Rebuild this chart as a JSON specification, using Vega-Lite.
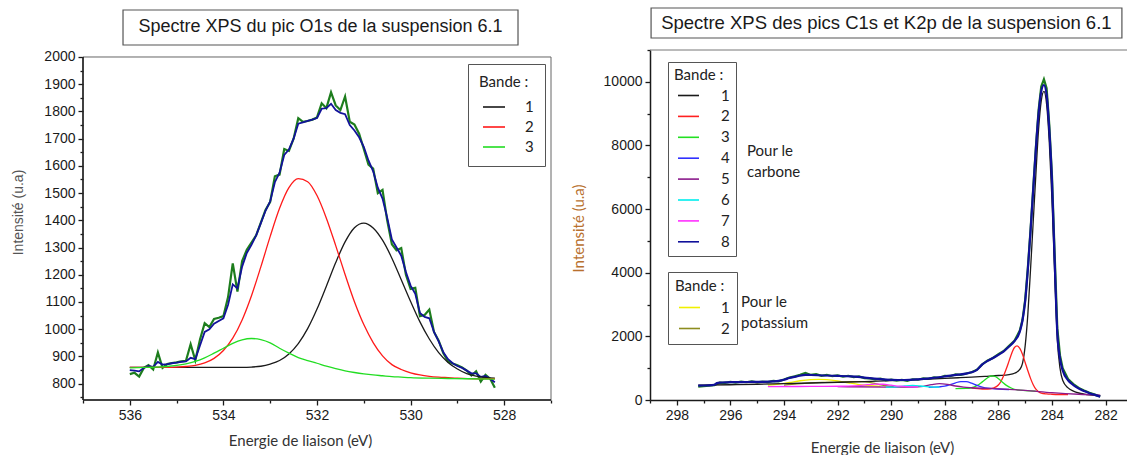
{
  "$schema": "https://vega.github.io/schema/vega-lite/v6.json",
  "background": "white",
  "autosize": {"type": "pad"},
  "padding": {"left": 11, "top": 7, "right": 0, "bottom": 0},
  "bounds": "flush",
  "spacing": 99,
  "resolve": {"scale": {"color": "independent", "stroke": "independent"}, "legend": {"color": "independent", "stroke": "independent"}},
  "config": {
    "view": {"stroke": null},
    "axis": {"grid": false, "labelFont": "Liberation Sans", "labelFontSize": 14, "labelColor": "#1a1a1a", "tickColor": "#1a1a1a", "domainColor": "#1a1a1a", "tickWidth": 1.3, "domainWidth": 1.5, "tickSize": 5, "labelPadding": 3, "titleFontWeight": "normal"},
    "legend": {"titleFont": "Lato", "labelFont": "Lato", "titleFontSize": 15, "labelFontSize": 15, "titleFontWeight": "normal", "titleColor": "#222", "labelColor": "#222", "strokeColor": "#555", "symbolType": "stroke", "symbolStrokeWidth": 1.6, "symbolOffset": 3}
  },
  "datasets": {
    "one": [{}],
    "o1s": [
      {"e":536.0,"i":835,"s":"data"},{"e":535.9,"i":840,"s":"data"},{"e":535.8,"i":826,"s":"data"},{"e":535.7,"i":858,"s":"data"},{"e":535.6,"i":868,"s":"data"},{"e":535.5,"i":852,"s":"data"},{"e":535.4,"i":915,"s":"data"},{"e":535.3,"i":858,"s":"data"},{"e":535.2,"i":872,"s":"data"},{"e":535.1,"i":876,"s":"data"},{"e":535.0,"i":878,"s":"data"},{"e":534.9,"i":882,"s":"data"},{"e":534.8,"i":884,"s":"data"},{"e":534.7,"i":945,"s":"data"},{"e":534.6,"i":886,"s":"data"},{"e":534.5,"i":962,"s":"data"},{"e":534.4,"i":1022,"s":"data"},{"e":534.3,"i":1008,"s":"data"},{"e":534.2,"i":1038,"s":"data"},{"e":534.1,"i":1042,"s":"data"},{"e":534.0,"i":1048,"s":"data"},{"e":533.9,"i":1118,"s":"data"},{"e":533.8,"i":1242,"s":"data"},{"e":533.7,"i":1138,"s":"data"},{"e":533.6,"i":1250,"s":"data"},{"e":533.5,"i":1292,"s":"data"},{"e":533.4,"i":1318,"s":"data"},{"e":533.3,"i":1345,"s":"data"},{"e":533.2,"i":1392,"s":"data"},{"e":533.1,"i":1438,"s":"data"},{"e":533.0,"i":1468,"s":"data"},{"e":532.9,"i":1562,"s":"data"},{"e":532.8,"i":1568,"s":"data"},{"e":532.7,"i":1662,"s":"data"},{"e":532.6,"i":1655,"s":"data"},{"e":532.5,"i":1700,"s":"data"},{"e":532.4,"i":1775,"s":"data"},{"e":532.3,"i":1762,"s":"data"},{"e":532.2,"i":1765,"s":"data"},{"e":532.1,"i":1770,"s":"data"},{"e":532.0,"i":1778,"s":"data"},{"e":531.9,"i":1830,"s":"data"},{"e":531.8,"i":1812,"s":"data"},{"e":531.7,"i":1870,"s":"data"},{"e":531.6,"i":1822,"s":"data"},{"e":531.5,"i":1805,"s":"data"},{"e":531.4,"i":1855,"s":"data"},{"e":531.3,"i":1762,"s":"data"},{"e":531.2,"i":1752,"s":"data"},{"e":531.1,"i":1718,"s":"data"},{"e":531.0,"i":1662,"s":"data"},{"e":530.9,"i":1605,"s":"data"},{"e":530.8,"i":1590,"s":"data"},{"e":530.7,"i":1500,"s":"data"},{"e":530.6,"i":1512,"s":"data"},{"e":530.5,"i":1400,"s":"data"},{"e":530.4,"i":1312,"s":"data"},{"e":530.3,"i":1290,"s":"data"},{"e":530.2,"i":1298,"s":"data"},{"e":530.1,"i":1200,"s":"data"},{"e":530.0,"i":1148,"s":"data"},{"e":529.9,"i":1152,"s":"data"},{"e":529.8,"i":1048,"s":"data"},{"e":529.7,"i":1052,"s":"data"},{"e":529.6,"i":1072,"s":"data"},{"e":529.5,"i":990,"s":"data"},{"e":529.4,"i":958,"s":"data"},{"e":529.3,"i":912,"s":"data"},{"e":529.2,"i":882,"s":"data"},{"e":529.1,"i":874,"s":"data"},{"e":529.0,"i":868,"s":"data"},{"e":528.9,"i":860,"s":"data"},{"e":528.8,"i":848,"s":"data"},{"e":528.7,"i":830,"s":"data"},{"e":528.6,"i":845,"s":"data"},{"e":528.5,"i":808,"s":"data"},{"e":528.4,"i":832,"s":"data"},{"e":528.3,"i":818,"s":"data"},{"e":528.2,"i":785,"s":"data"},
      {"e":536.0,"i":850,"s":"env"},{"e":535.9,"i":848,"s":"env"},{"e":535.8,"i":845,"s":"env"},{"e":535.7,"i":858,"s":"env"},{"e":535.6,"i":865,"s":"env"},{"e":535.5,"i":862,"s":"env"},{"e":535.4,"i":880,"s":"env"},{"e":535.3,"i":870,"s":"env"},{"e":535.2,"i":872,"s":"env"},{"e":535.1,"i":875,"s":"env"},{"e":535.0,"i":877,"s":"env"},{"e":534.9,"i":880,"s":"env"},{"e":534.8,"i":882,"s":"env"},{"e":534.7,"i":895,"s":"env"},{"e":534.6,"i":890,"s":"env"},{"e":534.5,"i":940,"s":"env"},{"e":534.4,"i":990,"s":"env"},{"e":534.3,"i":1000,"s":"env"},{"e":534.2,"i":1020,"s":"env"},{"e":534.1,"i":1030,"s":"env"},{"e":534.0,"i":1040,"s":"env"},{"e":533.9,"i":1090,"s":"env"},{"e":533.8,"i":1165,"s":"env"},{"e":533.7,"i":1150,"s":"env"},{"e":533.6,"i":1230,"s":"env"},{"e":533.5,"i":1280,"s":"env"},{"e":533.4,"i":1310,"s":"env"},{"e":533.3,"i":1345,"s":"env"},{"e":533.2,"i":1390,"s":"env"},{"e":533.1,"i":1435,"s":"env"},{"e":533.0,"i":1470,"s":"env"},{"e":532.9,"i":1540,"s":"env"},{"e":532.8,"i":1575,"s":"env"},{"e":532.7,"i":1640,"s":"env"},{"e":532.6,"i":1660,"s":"env"},{"e":532.5,"i":1700,"s":"env"},{"e":532.4,"i":1755,"s":"env"},{"e":532.3,"i":1760,"s":"env"},{"e":532.2,"i":1765,"s":"env"},{"e":532.1,"i":1770,"s":"env"},{"e":532.0,"i":1776,"s":"env"},{"e":531.9,"i":1810,"s":"env"},{"e":531.8,"i":1812,"s":"env"},{"e":531.7,"i":1828,"s":"env"},{"e":531.6,"i":1805,"s":"env"},{"e":531.5,"i":1795,"s":"env"},{"e":531.4,"i":1790,"s":"env"},{"e":531.3,"i":1750,"s":"env"},{"e":531.2,"i":1730,"s":"env"},{"e":531.1,"i":1705,"s":"env"},{"e":531.0,"i":1670,"s":"env"},{"e":530.9,"i":1620,"s":"env"},{"e":530.8,"i":1580,"s":"env"},{"e":530.7,"i":1520,"s":"env"},{"e":530.6,"i":1480,"s":"env"},{"e":530.5,"i":1410,"s":"env"},{"e":530.4,"i":1330,"s":"env"},{"e":530.3,"i":1300,"s":"env"},{"e":530.2,"i":1270,"s":"env"},{"e":530.1,"i":1210,"s":"env"},{"e":530.0,"i":1160,"s":"env"},{"e":529.9,"i":1130,"s":"env"},{"e":529.8,"i":1060,"s":"env"},{"e":529.7,"i":1045,"s":"env"},{"e":529.6,"i":1040,"s":"env"},{"e":529.5,"i":990,"s":"env"},{"e":529.4,"i":955,"s":"env"},{"e":529.3,"i":915,"s":"env"},{"e":529.2,"i":890,"s":"env"},{"e":529.1,"i":875,"s":"env"},{"e":529.0,"i":865,"s":"env"},{"e":528.9,"i":858,"s":"env"},{"e":528.8,"i":848,"s":"env"},{"e":528.7,"i":838,"s":"env"},{"e":528.6,"i":838,"s":"env"},{"e":528.5,"i":825,"s":"env"},{"e":528.4,"i":828,"s":"env"},{"e":528.3,"i":818,"s":"env"},{"e":528.2,"i":805,"s":"env"},
      {"e":536.0,"i":860,"s":"1"},{"e":535.0,"i":860,"s":"1"},{"e":534.0,"i":860,"s":"1"},{"e":533.6,"i":860,"s":"1"},{"e":533.4,"i":861,"s":"1"},{"e":533.2,"i":864,"s":"1"},{"e":533.0,"i":872,"s":"1"},{"e":532.8,"i":885,"s":"1"},{"e":532.6,"i":909,"s":"1"},{"e":532.4,"i":947,"s":"1"},{"e":532.2,"i":1002,"s":"1"},{"e":532.0,"i":1074,"s":"1"},{"e":531.8,"i":1158,"s":"1"},{"e":531.6,"i":1245,"s":"1"},{"e":531.4,"i":1321,"s":"1"},{"e":531.2,"i":1373,"s":"1"},{"e":531.0,"i":1390,"s":"1"},{"e":530.8,"i":1372,"s":"1"},{"e":530.6,"i":1327,"s":"1"},{"e":530.4,"i":1261,"s":"1"},{"e":530.2,"i":1182,"s":"1"},{"e":530.0,"i":1102,"s":"1"},{"e":529.8,"i":1027,"s":"1"},{"e":529.6,"i":964,"s":"1"},{"e":529.4,"i":914,"s":"1"},{"e":529.2,"i":878,"s":"1"},{"e":529.0,"i":854,"s":"1"},{"e":528.8,"i":837,"s":"1"},{"e":528.6,"i":828,"s":"1"},{"e":528.4,"i":823,"s":"1"},{"e":528.2,"i":820,"s":"1"},
      {"e":536.0,"i":860,"s":"2"},{"e":535.2,"i":860,"s":"2"},{"e":535.0,"i":861,"s":"2"},{"e":534.8,"i":863,"s":"2"},{"e":534.6,"i":867,"s":"2"},{"e":534.4,"i":876,"s":"2"},{"e":534.2,"i":893,"s":"2"},{"e":534.0,"i":922,"s":"2"},{"e":533.8,"i":967,"s":"2"},{"e":533.6,"i":1034,"s":"2"},{"e":533.4,"i":1123,"s":"2"},{"e":533.2,"i":1229,"s":"2"},{"e":533.0,"i":1341,"s":"2"},{"e":532.8,"i":1444,"s":"2"},{"e":532.6,"i":1520,"s":"2"},{"e":532.4,"i":1553,"s":"2"},{"e":532.2,"i":1542,"s":"2"},{"e":532.0,"i":1491,"s":"2"},{"e":531.8,"i":1408,"s":"2"},{"e":531.6,"i":1307,"s":"2"},{"e":531.4,"i":1201,"s":"2"},{"e":531.2,"i":1101,"s":"2"},{"e":531.0,"i":1017,"s":"2"},{"e":530.8,"i":951,"s":"2"},{"e":530.6,"i":902,"s":"2"},{"e":530.4,"i":870,"s":"2"},{"e":530.2,"i":852,"s":"2"},{"e":530.0,"i":840,"s":"2"},{"e":529.8,"i":832,"s":"2"},{"e":529.6,"i":827,"s":"2"},{"e":529.4,"i":824,"s":"2"},{"e":529.2,"i":822,"s":"2"},{"e":529.0,"i":820,"s":"2"},{"e":528.6,"i":818,"s":"2"},{"e":528.2,"i":818,"s":"2"},
      {"e":536.0,"i":858,"s":"3"},{"e":535.8,"i":859,"s":"3"},{"e":535.6,"i":860,"s":"3"},{"e":535.4,"i":861,"s":"3"},{"e":535.2,"i":863,"s":"3"},{"e":535.0,"i":867,"s":"3"},{"e":534.8,"i":873,"s":"3"},{"e":534.6,"i":882,"s":"3"},{"e":534.4,"i":895,"s":"3"},{"e":534.2,"i":912,"s":"3"},{"e":534.0,"i":930,"s":"3"},{"e":533.8,"i":948,"s":"3"},{"e":533.6,"i":961,"s":"3"},{"e":533.4,"i":966,"s":"3"},{"e":533.2,"i":962,"s":"3"},{"e":533.0,"i":950,"s":"3"},{"e":532.8,"i":930,"s":"3"},{"e":532.6,"i":912,"s":"3"},{"e":532.4,"i":896,"s":"3"},{"e":532.2,"i":885,"s":"3"},{"e":532.0,"i":875,"s":"3"},{"e":531.8,"i":864,"s":"3"},{"e":531.6,"i":855,"s":"3"},{"e":531.4,"i":847,"s":"3"},{"e":531.2,"i":841,"s":"3"},{"e":531.0,"i":836,"s":"3"},{"e":530.8,"i":832,"s":"3"},{"e":530.6,"i":829,"s":"3"},{"e":530.4,"i":826,"s":"3"},{"e":530.2,"i":824,"s":"3"},{"e":530.0,"i":822,"s":"3"},{"e":529.6,"i":820,"s":"3"},{"e":529.2,"i":819,"s":"3"},{"e":528.8,"i":818,"s":"3"},{"e":528.2,"i":817,"s":"3"}
    ],
    "c1s": [
      {"e":297.2,"i":420,"s":"data"},{"e":297.0,"i":438,"s":"data"},{"e":296.8,"i":452,"s":"data"},{"e":296.6,"i":468,"s":"data"},{"e":296.4,"i":546,"s":"data"},{"e":296.2,"i":538,"s":"data"},{"e":296.0,"i":572,"s":"data"},{"e":295.8,"i":548,"s":"data"},{"e":295.6,"i":576,"s":"data"},{"e":295.4,"i":558,"s":"data"},{"e":295.2,"i":582,"s":"data"},{"e":295.0,"i":555,"s":"data"},{"e":294.8,"i":578,"s":"data"},{"e":294.6,"i":560,"s":"data"},{"e":294.4,"i":602,"s":"data"},{"e":294.2,"i":588,"s":"data"},{"e":294.0,"i":642,"s":"data"},{"e":293.8,"i":705,"s":"data"},{"e":293.6,"i":742,"s":"data"},{"e":293.4,"i":792,"s":"data"},{"e":293.2,"i":852,"s":"data"},{"e":293.0,"i":788,"s":"data"},{"e":292.8,"i":812,"s":"data"},{"e":292.6,"i":758,"s":"data"},{"e":292.4,"i":792,"s":"data"},{"e":292.2,"i":748,"s":"data"},{"e":292.0,"i":772,"s":"data"},{"e":291.8,"i":738,"s":"data"},{"e":291.6,"i":762,"s":"data"},{"e":291.4,"i":718,"s":"data"},{"e":291.2,"i":742,"s":"data"},{"e":291.0,"i":688,"s":"data"},{"e":290.8,"i":682,"s":"data"},{"e":290.6,"i":648,"s":"data"},{"e":290.4,"i":672,"s":"data"},{"e":290.2,"i":618,"s":"data"},{"e":290.0,"i":642,"s":"data"},{"e":289.8,"i":608,"s":"data"},{"e":289.6,"i":632,"s":"data"},{"e":289.4,"i":598,"s":"data"},{"e":289.2,"i":652,"s":"data"},{"e":289.0,"i":638,"s":"data"},{"e":288.8,"i":682,"s":"data"},{"e":288.6,"i":668,"s":"data"},{"e":288.4,"i":712,"s":"data"},{"e":288.2,"i":698,"s":"data"},{"e":288.0,"i":762,"s":"data"},{"e":287.8,"i":748,"s":"data"},{"e":287.6,"i":802,"s":"data"},{"e":287.4,"i":788,"s":"data"},{"e":287.2,"i":832,"s":"data"},{"e":287.0,"i":872,"s":"data"},{"e":286.8,"i":952,"s":"data"},{"e":286.6,"i":1118,"s":"data"},{"e":286.4,"i":1242,"s":"data"},{"e":286.2,"i":1322,"s":"data"},{"e":286.0,"i":1442,"s":"data"},{"e":285.8,"i":1540,"s":"data"},{"e":285.6,"i":1700,"s":"data"},{"e":285.4,"i":1860,"s":"data"},{"e":285.2,"i":2180,"s":"data"},{"e":285.1,"i":2520,"s":"data"},{"e":285.0,"i":3150,"s":"data"},{"e":284.9,"i":4150,"s":"data"},{"e":284.8,"i":5350,"s":"data"},{"e":284.7,"i":6650,"s":"data"},{"e":284.6,"i":7950,"s":"data"},{"e":284.5,"i":9100,"s":"data"},{"e":284.4,"i":9850,"s":"data"},{"e":284.3,"i":10080,"s":"data"},{"e":284.2,"i":9800,"s":"data"},{"e":284.1,"i":8650,"s":"data"},{"e":284.0,"i":7050,"s":"data"},{"e":283.9,"i":4600,"s":"data"},{"e":283.8,"i":2250,"s":"data"},{"e":283.7,"i":1400,"s":"data"},{"e":283.6,"i":1000,"s":"data"},{"e":283.4,"i":660,"s":"data"},{"e":283.2,"i":500,"s":"data"},{"e":283.0,"i":380,"s":"data"},{"e":282.8,"i":300,"s":"data"},{"e":282.6,"i":230,"s":"data"},{"e":282.4,"i":170,"s":"data"},{"e":282.2,"i":110,"s":"data"},
      {"e":297.2,"i":470,"s":"1"},{"e":296.0,"i":480,"s":"1"},{"e":295.0,"i":495,"s":"1"},{"e":294.0,"i":515,"s":"1"},{"e":293.0,"i":535,"s":"1"},{"e":292.0,"i":555,"s":"1"},{"e":291.0,"i":580,"s":"1"},{"e":290.0,"i":610,"s":"1"},{"e":289.0,"i":640,"s":"1"},{"e":288.0,"i":680,"s":"1"},{"e":287.5,"i":700,"s":"1"},{"e":287.0,"i":720,"s":"1"},{"e":286.5,"i":745,"s":"1"},{"e":286.0,"i":770,"s":"1"},{"e":285.6,"i":800,"s":"1"},{"e":285.4,"i":840,"s":"1"},{"e":285.2,"i":960,"s":"1"},{"e":285.1,"i":1150,"s":"1"},{"e":285.0,"i":1700,"s":"1"},{"e":284.9,"i":2700,"s":"1"},{"e":284.8,"i":4100,"s":"1"},{"e":284.7,"i":5600,"s":"1"},{"e":284.6,"i":7100,"s":"1"},{"e":284.5,"i":8500,"s":"1"},{"e":284.4,"i":9400,"s":"1"},{"e":284.3,"i":9700,"s":"1"},{"e":284.2,"i":9300,"s":"1"},{"e":284.1,"i":8100,"s":"1"},{"e":284.0,"i":6300,"s":"1"},{"e":283.9,"i":4000,"s":"1"},{"e":283.8,"i":1900,"s":"1"},{"e":283.7,"i":1000,"s":"1"},{"e":283.6,"i":620,"s":"1"},{"e":283.4,"i":380,"s":"1"},{"e":283.2,"i":280,"s":"1"},{"e":283.0,"i":220,"s":"1"},{"e":282.8,"i":185,"s":"1"},{"e":282.6,"i":160,"s":"1"},{"e":282.4,"i":145,"s":"1"},{"e":282.2,"i":135,"s":"1"},
      {"e":287.0,"i":370,"s":"2"},{"e":286.6,"i":345,"s":"2"},{"e":286.4,"i":345,"s":"2"},{"e":286.2,"i":375,"s":"2"},{"e":286.0,"i":470,"s":"2"},{"e":285.9,"i":590,"s":"2"},{"e":285.8,"i":770,"s":"2"},{"e":285.7,"i":990,"s":"2"},{"e":285.6,"i":1230,"s":"2"},{"e":285.5,"i":1470,"s":"2"},{"e":285.4,"i":1650,"s":"2"},{"e":285.3,"i":1700,"s":"2"},{"e":285.2,"i":1620,"s":"2"},{"e":285.1,"i":1440,"s":"2"},{"e":285.0,"i":1180,"s":"2"},{"e":284.9,"i":920,"s":"2"},{"e":284.8,"i":680,"s":"2"},{"e":284.7,"i":480,"s":"2"},{"e":284.6,"i":340,"s":"2"},{"e":284.5,"i":260,"s":"2"},{"e":284.4,"i":215,"s":"2"},{"e":284.2,"i":190,"s":"2"},{"e":284.0,"i":180,"s":"2"},{"e":283.6,"i":172,"s":"2"},{"e":283.4,"i":170,"s":"2"},
      {"e":287.6,"i":360,"s":"3"},{"e":287.2,"i":365,"s":"3"},{"e":287.0,"i":385,"s":"3"},{"e":286.8,"i":450,"s":"3"},{"e":286.6,"i":570,"s":"3"},{"e":286.4,"i":700,"s":"3"},{"e":286.25,"i":760,"s":"3"},{"e":286.1,"i":730,"s":"3"},{"e":285.9,"i":600,"s":"3"},{"e":285.7,"i":460,"s":"3"},{"e":285.5,"i":370,"s":"3"},{"e":285.3,"i":320,"s":"3"},{"e":285.0,"i":295,"s":"3"},{"e":284.6,"i":275,"s":"3"},
      {"e":288.6,"i":400,"s":"4"},{"e":288.2,"i":415,"s":"4"},{"e":288.0,"i":435,"s":"4"},{"e":287.8,"i":480,"s":"4"},{"e":287.6,"i":540,"s":"4"},{"e":287.4,"i":578,"s":"4"},{"e":287.2,"i":575,"s":"4"},{"e":287.0,"i":530,"s":"4"},{"e":286.8,"i":460,"s":"4"},{"e":286.6,"i":405,"s":"4"},{"e":286.4,"i":370,"s":"4"},{"e":286.0,"i":345,"s":"4"},{"e":285.6,"i":330,"s":"4"},
      {"e":292.0,"i":420,"s":"5"},{"e":290.0,"i":405,"s":"5"},{"e":289.2,"i":405,"s":"5"},{"e":288.8,"i":430,"s":"5"},{"e":288.5,"i":480,"s":"5"},{"e":288.2,"i":515,"s":"5"},{"e":287.9,"i":490,"s":"5"},{"e":287.6,"i":440,"s":"5"},{"e":287.3,"i":405,"s":"5"},{"e":287.0,"i":385,"s":"5"},{"e":286.0,"i":350,"s":"5"},{"e":285.0,"i":300,"s":"5"},{"e":284.0,"i":230,"s":"5"},{"e":283.0,"i":180,"s":"5"},{"e":282.2,"i":155,"s":"5"},
      {"e":290.2,"i":405,"s":"6"},{"e":289.8,"i":415,"s":"6"},{"e":289.5,"i":440,"s":"6"},{"e":289.2,"i":455,"s":"6"},{"e":288.9,"i":440,"s":"6"},{"e":288.6,"i":415,"s":"6"},{"e":288.2,"i":405,"s":"6"},
      {"e":294.6,"i":420,"s":"7"},{"e":293.5,"i":425,"s":"7"},{"e":292.5,"i":430,"s":"7"},{"e":291.6,"i":435,"s":"7"},{"e":291.2,"i":450,"s":"7"},{"e":290.9,"i":480,"s":"7"},{"e":290.6,"i":500,"s":"7"},{"e":290.3,"i":495,"s":"7"},{"e":290.0,"i":465,"s":"7"},{"e":289.7,"i":435,"s":"7"},{"e":289.3,"i":415,"s":"7"},{"e":289.0,"i":410,"s":"7"},
      {"e":297.2,"i":450,"s":"8"},{"e":297.0,"i":455,"s":"8"},{"e":296.8,"i":460,"s":"8"},{"e":296.6,"i":480,"s":"8"},{"e":296.5,"i":530,"s":"8"},{"e":296.4,"i":548,"s":"8"},{"e":296.2,"i":552,"s":"8"},{"e":296.0,"i":560,"s":"8"},{"e":295.6,"i":562,"s":"8"},{"e":295.2,"i":568,"s":"8"},{"e":294.8,"i":572,"s":"8"},{"e":294.4,"i":585,"s":"8"},{"e":294.2,"i":600,"s":"8"},{"e":294.0,"i":635,"s":"8"},{"e":293.8,"i":690,"s":"8"},{"e":293.5,"i":745,"s":"8"},{"e":293.2,"i":790,"s":"8"},{"e":293.0,"i":785,"s":"8"},{"e":292.5,"i":770,"s":"8"},{"e":292.0,"i":758,"s":"8"},{"e":291.5,"i":742,"s":"8"},{"e":291.0,"i":705,"s":"8"},{"e":290.5,"i":665,"s":"8"},{"e":290.0,"i":635,"s":"8"},{"e":289.5,"i":628,"s":"8"},{"e":289.0,"i":650,"s":"8"},{"e":288.5,"i":690,"s":"8"},{"e":288.0,"i":740,"s":"8"},{"e":287.5,"i":795,"s":"8"},{"e":287.2,"i":830,"s":"8"},{"e":287.0,"i":870,"s":"8"},{"e":286.8,"i":950,"s":"8"},{"e":286.6,"i":1120,"s":"8"},{"e":286.4,"i":1230,"s":"8"},{"e":286.2,"i":1320,"s":"8"},{"e":286.0,"i":1420,"s":"8"},{"e":285.8,"i":1530,"s":"8"},{"e":285.6,"i":1680,"s":"8"},{"e":285.4,"i":1850,"s":"8"},{"e":285.2,"i":2150,"s":"8"},{"e":285.1,"i":2500,"s":"8"},{"e":285.0,"i":3100,"s":"8"},{"e":284.9,"i":4100,"s":"8"},{"e":284.8,"i":5300,"s":"8"},{"e":284.7,"i":6600,"s":"8"},{"e":284.6,"i":7900,"s":"8"},{"e":284.5,"i":9000,"s":"8"},{"e":284.4,"i":9700,"s":"8"},{"e":284.3,"i":9900,"s":"8"},{"e":284.2,"i":9600,"s":"8"},{"e":284.1,"i":8500,"s":"8"},{"e":284.0,"i":6900,"s":"8"},{"e":283.9,"i":4400,"s":"8"},{"e":283.8,"i":2100,"s":"8"},{"e":283.7,"i":1300,"s":"8"},{"e":283.6,"i":930,"s":"8"},{"e":283.4,"i":620,"s":"8"},{"e":283.2,"i":470,"s":"8"},{"e":283.0,"i":360,"s":"8"},{"e":282.8,"i":280,"s":"8"},{"e":282.6,"i":210,"s":"8"},{"e":282.4,"i":160,"s":"8"},{"e":282.2,"i":105,"s":"8"}
    ],
    "k2p": [
      {"e":294.6,"i":470,"k":"1"},{"e":294.2,"i":500,"k":"1"},{"e":293.8,"i":550,"k":"1"},{"e":293.4,"i":605,"k":"1"},{"e":293.0,"i":640,"k":"1"},{"e":292.7,"i":648,"k":"1"},{"e":292.4,"i":640,"k":"1"},{"e":292.0,"i":600,"k":"1"},{"e":291.6,"i":540,"k":"1"},{"e":291.2,"i":485,"k":"1"},{"e":290.8,"i":450,"k":"1"},{"e":290.4,"i":430,"k":"1"},
      {"e":294.0,"i":470,"k":"2"},{"e":293.5,"i":510,"k":"2"},{"e":293.0,"i":540,"k":"2"},{"e":292.5,"i":555,"k":"2"},{"e":292.0,"i":565,"k":"2"},{"e":291.5,"i":575,"k":"2"},{"e":291.1,"i":580,"k":"2"},{"e":290.8,"i":555,"k":"2"},{"e":290.5,"i":500,"k":"2"},{"e":290.2,"i":450,"k":"2"},{"e":289.9,"i":425,"k":"2"}
    ]
  },
  "hconcat": [
    {
      "width": 468,
      "height": 350,
      "resolve": {"axis": {"x": "independent", "y": "independent"}},
      "layer": [
        {
          "data": {"name": "o1s"},
          "encoding": {
            "x": {"field": "e", "type": "quantitative",
                  "scale": {"domain": [527, 537], "reverse": true, "nice": false, "zero": false},
                  "axis": {"orient": "bottom", "values": [528, 530, 532, 534, 536], "domain": false, "format": "d",
                           "title": "Energie de liaison (eV)", "titleFont": "Lato", "titleFontSize": 15, "titleColor": "#333",
                           "titleX": 217, "titleY": 40, "titleAlign": "center", "titleBaseline": "middle"}},
            "y": {"field": "i", "type": "quantitative",
                  "scale": {"domain": [740, 2025.7], "nice": false, "zero": false},
                  "axis": {"orient": "left", "values": [800, 900, 1000, 1100, 1200, 1300, 1400, 1500, 1600, 1700, 1800, 1900, 2000], "domain": false, "format": "d",
                           "title": "Intensité  (u.a)", "titleFont": "Liberation Sans", "titleFontSize": 14, "titleColor": "#555",
                           "titleX": -65, "titleY": 162, "titleAngle": 270, "titleAlign": "center", "titleBaseline": "middle"}}
          },
          "layer": [
            {"transform": [{"filter": {"field": "s", "equal": "data"}}],
             "mark": {"type": "line", "color": "#1d7d1d", "strokeWidth": 2.2}},
            {"transform": [{"filter": {"field": "s", "equal": "env"}}],
             "mark": {"type": "line", "color": "#12129a", "strokeWidth": 1.8}},
            {"transform": [{"filter": {"field": "s", "oneOf": ["1", "2", "3"]}}],
             "mark": {"type": "line", "strokeWidth": 1.3, "interpolate": "monotone"},
             "encoding": {"color": {"field": "s", "type": "nominal",
                                    "scale": {"domain": ["1", "2", "3"], "range": ["#1a1a1a", "#ff1a1a", "#22dd22"]},
                                    "legend": {"title": "Bande :", "orient": "none", "legendX": 385, "legendY": 14,
                                               "padding": 11, "symbolSize": 484, "labelOffset": 19, "titlePadding": 5, "rowPadding": 0}}}}
          ]
        },
        {
          "data": {"name": "one"},
          "mark": {"type": "rect", "fill": "transparent", "stroke": "#666", "strokeWidth": 1},
          "encoding": {
            "x": {"datum": 537, "axis": {"orient": "bottom", "values": [527, 529, 531, 533, 535, 537], "labels": false, "domain": false, "tickSize": 3, "title": null}},
            "x2": {"datum": 527},
            "y": {"datum": 740, "axis": {"orient": "left", "values": [750, 850, 950, 1050, 1150, 1250, 1350, 1450, 1550, 1650, 1750, 1850, 1950], "labels": false, "domain": false, "tickSize": 3, "title": null}},
            "y2": {"datum": 2000}
          }
        },
        {
          "data": {"name": "one"},
          "mark": {"type": "rule", "color": "#1a1a1a", "strokeWidth": 1.5},
          "encoding": {"x": {"datum": 537, "axis": null}, "y": {"datum": 740, "axis": null}, "y2": {"datum": 2000}}
        },
        {
          "data": {"name": "one"},
          "mark": {"type": "rule", "color": "#1a1a1a", "strokeWidth": 1.5},
          "encoding": {"x": {"datum": 537, "axis": null}, "x2": {"datum": 527}, "y": {"datum": 740, "axis": null}}
        },
        {
          "data": {"name": "one"},
          "mark": {"type": "rect", "fill": "white", "stroke": "#555", "strokeWidth": 1.2},
          "encoding": {"x": {"datum": 536.145, "axis": null}, "x2": {"datum": 527.705}, "y": {"datum": 2172.7, "axis": null}, "y2": {"datum": 2044.1}}
        },
        {
          "data": {"name": "one"},
          "mark": {"type": "text", "text": "Spectre XPS du pic O1s de la suspension 6.1", "font": "Liberation Sans", "fontSize": 18, "color": "#1a1a1a"},
          "encoding": {"x": {"datum": 531.925, "axis": null}, "y": {"datum": 2108.4, "axis": null}}
        }
      ]
    },
    {
      "width": 477,
      "height": 350,
      "resolve": {"axis": {"x": "independent", "y": "independent"}},
      "layer": [
        {
          "encoding": {
            "x": {"field": "e", "type": "quantitative",
                  "scale": {"domain": [281.2, 299], "reverse": true, "nice": false, "zero": false},
                  "axis": {"orient": "bottom", "values": [282, 284, 286, 288, 290, 292, 294, 296, 298], "format": "d",
                           "title": "Energie de liaison (eV)", "titleFont": "Lato", "titleFontSize": 15, "titleColor": "#333",
                           "titleX": 232, "titleY": 47, "titleAlign": "center", "titleBaseline": "middle"}},
            "y": {"field": "i", "type": "quantitative",
                  "scale": {"domain": [0, 11000], "nice": false, "zero": false},
                  "axis": {"orient": "left", "values": [0, 2000, 4000, 6000, 8000, 10000], "format": "d",
                           "title": "Intensité  (u.a)", "titleFont": "Lato", "titleFontSize": 15, "titleColor": "#b8702e",
                           "titleX": -72, "titleY": 178, "titleAngle": 270, "titleAlign": "center", "titleBaseline": "middle"}}
          },
          "layer": [
            {"data": {"name": "c1s"}, "transform": [{"filter": {"field": "s", "equal": "data"}}],
             "mark": {"type": "line", "color": "#1d7d1d", "strokeWidth": 2.2}},
            {"data": {"name": "k2p"},
             "mark": {"type": "line", "strokeWidth": 1.3, "interpolate": "monotone"},
             "encoding": {"color": {"field": "k", "type": "nominal",
                                    "scale": {"domain": ["1", "2"], "range": ["#f0f000", "#8c8c1e"]},
                                    "legend": {"title": "Bande :", "orient": "none", "legendX": 18, "legendY": 222,
                                               "padding": 7, "symbolSize": 441, "labelOffset": 20, "titlePadding": 2, "rowPadding": 1}}}},
            {"data": {"name": "c1s"}, "transform": [{"filter": {"field": "s", "oneOf": ["1", "2", "3", "4", "5", "6", "7"]}}],
             "mark": {"type": "line", "strokeWidth": 1.3, "interpolate": "monotone"},
             "encoding": {"stroke": {"field": "s", "type": "nominal",
                                     "scale": {"domain": ["1", "2", "3", "4", "5", "6", "7", "8"], "range": ["#1a1a1a", "#ff2020", "#22e022", "#3030ff", "#8b1a8b", "#00eeee", "#ff30ff", "#10109a"]},
                                     "legend": {"title": "Bande :", "orient": "none", "legendX": 18, "legendY": 12,
                                                "padding": 6, "symbolSize": 441, "labelOffset": 21, "titlePadding": 1, "rowPadding": 0.9}}}},
            {"data": {"name": "c1s"}, "transform": [{"filter": {"field": "s", "equal": "8"}}],
             "mark": {"type": "line", "strokeWidth": 2.2, "interpolate": "monotone"},
             "encoding": {"stroke": {"field": "s", "type": "nominal"}}}
          ]
        },
        {
          "data": {"name": "one"},
          "mark": {"type": "rule", "color": "#777", "strokeWidth": 1},
          "encoding": {
            "x": {"datum": 299, "axis": {"orient": "bottom", "values": [283, 285, 287, 289, 291, 293, 295, 297, 299], "labels": false, "domain": false, "tickSize": 3, "title": null}},
            "x2": {"datum": 281.2},
            "y": {"datum": 11000, "axis": {"orient": "left", "values": [1000, 3000, 5000, 7000, 9000, 11000], "labels": false, "domain": false, "tickSize": 3, "title": null}}
          }
        },
        {
          "data": {"name": "one"},
          "mark": {"type": "rect", "fill": "white", "stroke": "#555", "strokeWidth": 1.2},
          "encoding": {"x": {"datum": 298.96, "axis": null}, "x2": {"datum": 281.39}, "y": {"datum": 12320, "axis": null}, "y2": {"datum": 11377}}
        },
        {
          "data": {"name": "one"},
          "mark": {"type": "text", "text": "Spectre XPS des pics C1s et K2p de la suspension 6.1", "font": "Liberation Sans", "fontSize": 18.5, "color": "#1a1a1a"},
          "encoding": {"x": {"datum": 290.18, "axis": null}, "y": {"datum": 11849, "axis": null}}
        },
        {
          "data": {"name": "one"},
          "mark": {"type": "text", "text": ["Pour le", "carbone"], "align": "left", "baseline": "top", "lineHeight": 21, "font": "Lato", "fontSize": 15, "color": "#222"},
          "encoding": {"x": {"datum": 295.38, "axis": null}, "y": {"datum": 8045, "axis": null}}
        },
        {
          "data": {"name": "one"},
          "mark": {"type": "text", "text": ["Pour le", "potassium"], "align": "left", "baseline": "top", "lineHeight": 21, "font": "Lato", "fontSize": 15, "color": "#222"},
          "encoding": {"x": {"datum": 295.6, "axis": null}, "y": {"datum": 3300, "axis": null}}
        }
      ]
    }
  ]
}
